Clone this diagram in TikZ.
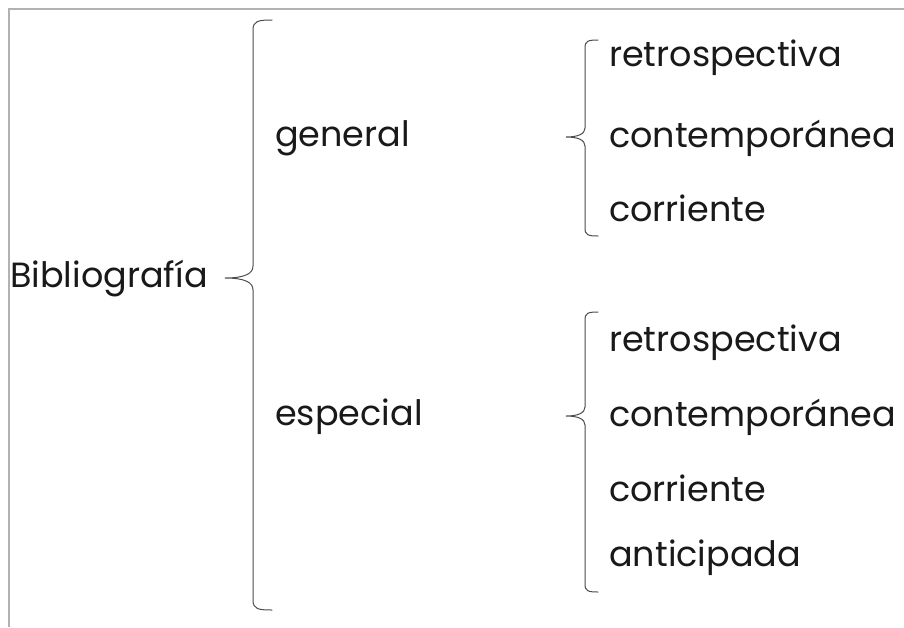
\documentclass[tikz,border=0pt]{standalone}
\usepackage{fontspec}
\setmainfont{Poppins}
\begin{document}
\begin{tikzpicture}[x=1pt,y=-1pt,
  lbl/.style={anchor=west,inner sep=0pt,font=\fontsize{35}{35}\selectfont,text=black!90},
  brace/.style={draw=black!70,line width=1pt,line cap=round}]
\useasboundingbox (0,0) rectangle (904,627);
\fill[white] (0,0) rectangle (904,627);
% page frame (top and left edges)
\draw[black!30,line width=2pt] (9,627) -- (9,9) -- (904,9);

% labels
\node[lbl] (root) at (10,279) {Bibliografía};
\node[lbl] (gen) at (275,138) {general};
\node[lbl] (esp) at (275,417) {especial};
\node[lbl] (g1) at (609,58) {retrospectiva};
\node[lbl] (g2) at (609,138) {contemporánea};
\node[lbl] (g3) at (609,208) {corriente};
\node[lbl] (e1) at (609,343) {retrospectiva};
\node[lbl] (e2) at (609,417) {contemporánea};
\node[lbl] (e3) at (609,488) {corriente};
\node[lbl] (e4) at (609,558) {anticipada};

% main brace
\draw[brace] (272,20) .. controls (258,20) and (253,21) .. (253,30)
  -- (253,266) .. controls (253,274) and (244,278) .. (225,278)
  .. controls (244,278) and (253,282) .. (253,290)
  -- (253,600) .. controls (253,609) and (258,610) .. (272,610);
% brace of "general"
\draw[brace] (598,40) .. controls (588,40) and (585,41) .. (585,48)
  -- (585,128) .. controls (585,134) and (578,137) .. (566,137)
  .. controls (578,137) and (585,140) .. (585,146)
  -- (585,228) .. controls (585,235) and (588,236) .. (598,236);
% brace of "especial"
\draw[brace] (598,312) .. controls (588,312) and (585,313) .. (585,320)
  -- (585,407) .. controls (585,413) and (578,416) .. (566,416)
  .. controls (578,416) and (585,419) .. (585,425)
  -- (585,584) .. controls (585,591) and (588,592) .. (598,592);
\end{tikzpicture}
\end{document}
